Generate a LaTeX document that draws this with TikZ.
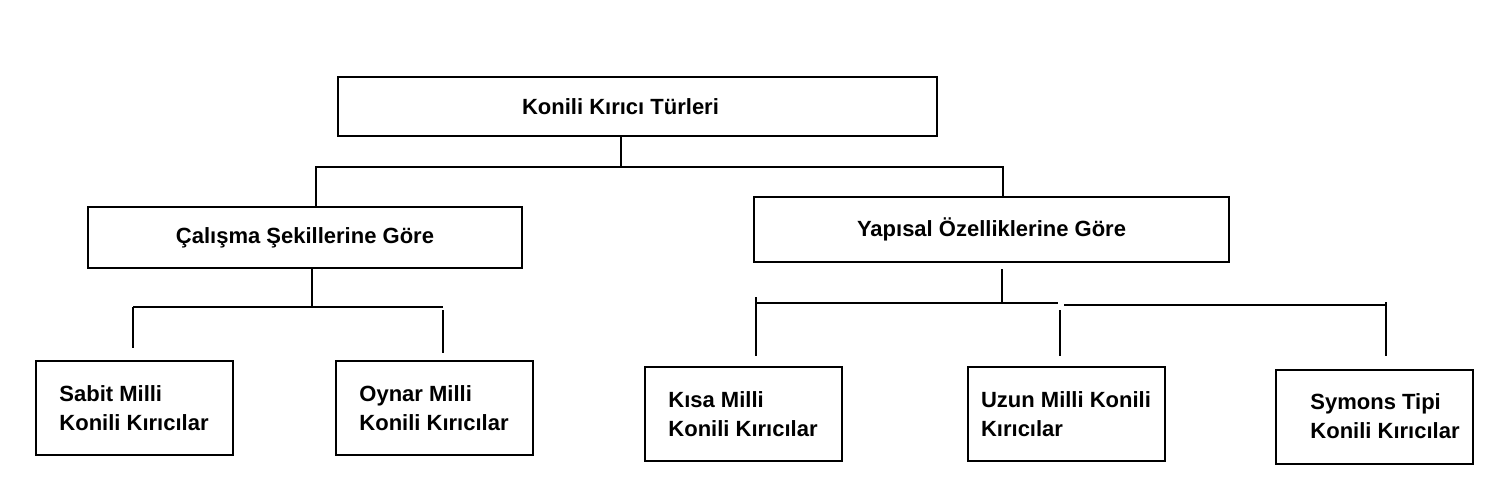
\documentclass[tikz,border=0pt]{standalone}
\usepackage{fontspec}
\setmainfont{Liberation Sans}
\begin{document}
\begin{tikzpicture}[x=1pt,y=-1pt,
    kutu/.style={draw,line width=2pt,inner sep=0pt,font=\bfseries\fontsize{22}{29}\selectfont},
    yaprak/.style={kutu,align=left,minimum width=197pt,minimum height=94pt},
    hat/.style={line width=2pt}]
\useasboundingbox[fill=white] (0,0) rectangle (1500,499);

\node[kutu,minimum width=599pt,minimum height=59pt] (tur) at (637.5,106.5) {\hspace*{-34pt}Konili Kırıcı Türleri};
\node[kutu,minimum width=434pt,minimum height=61pt] (calisma) at (305,237.5) {Çalışma Şekillerine Göre};
\node[kutu,minimum width=475pt,minimum height=65pt] (yapisal) at (991.5,229.5) {Yapısal Özelliklerine Göre};

\node[yaprak] (sabit) at (134,408) {Sabit Milli\\Konili Kırıcılar};
\node[yaprak] (oynar) at (434,408) {Oynar Milli\\Konili Kırıcılar};
\node[yaprak] (kisa) at (743,414) {Kısa Milli\\Konili Kırıcılar};
\node[yaprak] (uzun) at (1066,414) {Uzun Milli Konili\\Kırıcılar};
\node[yaprak] (symons) at (1374,416.5) {\hspace*{22pt}Symons Tipi\\\hspace*{22pt}Konili Kırıcılar};

\coordinate (ustorta) at (621,167);
\coordinate (ustsol) at (316,167);
\coordinate (ustsag) at (1003,167);
\draw[hat] (tur.south -| ustorta) -- (ustorta);
\draw[hat] (calisma.north -| ustsol) |- (ustsag) -- (ustsag |- yapisal.north);

\coordinate (solorta) at (312,307);
\coordinate (solsol) at (133,307);
\coordinate (solsag) at (443,307);
\draw[hat] (calisma.south -| solorta) -- (solorta);
\draw[hat] (solsol) -- (solsag);
\draw[hat] (solsol) -- ++(0,41);
\draw[hat] ([yshift=-3pt]solsag) -- ++(0,43);

\coordinate (sagorta) at (1002,302);
\coordinate (kisaust) at (756,303);
\coordinate (uzunust) at (1058,303);
\coordinate (uzunsag) at (1064,305);
\coordinate (symust) at (1386,305);
\draw[hat] ([yshift=-6pt]yapisal.south -| sagorta) -- (sagorta);
\draw[hat] (kisaust) -- (uzunust);
\draw[hat] (uzunsag) -- (symust);
\draw[hat] ([yshift=6pt]kisaust) -- ++(0,59);
\draw[hat] ([xshift=2pt,yshift=-7pt]uzunust) -- ++(0,46);
\draw[hat] ([yshift=3pt]symust) -- ++(0,54);
\end{tikzpicture}
\end{document}
